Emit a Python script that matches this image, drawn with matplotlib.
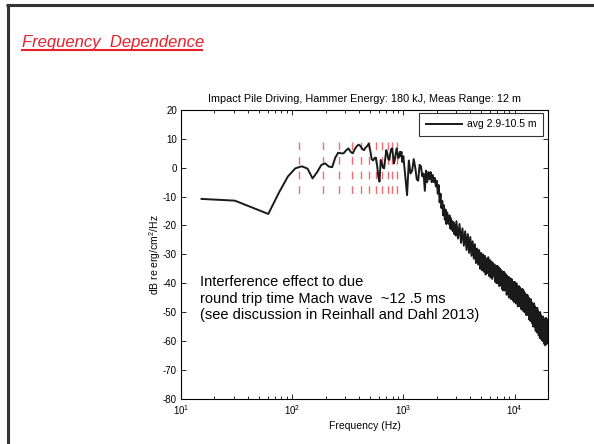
import numpy as np
import matplotlib
matplotlib.use("Agg")
import matplotlib.pyplot as plt
from matplotlib.lines import Line2D
from matplotlib.ticker import LogLocator, NullFormatter

plt.rcParams['font.family'] = ['Liberation Sans', 'DejaVu Sans']
plt.rcParams['mathtext.fontset'] = 'custom'
plt.rcParams['mathtext.rm'] = 'Liberation Sans'
plt.rcParams['mathtext.it'] = 'Liberation Sans:italic'
plt.rcParams['axes.unicode_minus'] = False

# ---------------- data ----------------
heading = "Frequency  Dependence"
title = "Impact Pile Driving, Hammer Energy: 180 kJ, Meas Range: 12 m"
legend_label = "avg 2.9-10.5 m"
xlabel = "Frequency (Hz)"
ylabel = "dB re erg/cm$^2$/Hz"
note = ("Interference effect to due\n"
        "round trip time Mach wave  ~12 .5 ms\n"
        "(see discussion in Reinhall and Dahl 2013)")

# low-frequency part (Hz, dB)
freq_low = [15.3, 30.5, 61.0, 76.3, 91.6, 106.8, 122.0, 137.3, 152.6, 167.8,
            183.1, 198.4, 213.6, 228.9, 244.1, 259.4, 274.7, 289.9, 305.2, 320.4,
            335.7, 351.0, 366.2, 381.5, 396.7, 412.0, 427.2, 442.5, 457.8, 473.0,
            488.3, 503.5, 518.8, 534.1, 549.3, 564.6, 579.8, 595.1, 610.4, 625.6,
            640.9, 656.1, 671.4, 686.6, 701.9, 717.2, 732.4, 747.7, 762.9, 778.2,
            793.5, 808.7, 824.0, 839.2, 854.5, 869.7, 885.0, 900.3, 915.5, 930.8,
            946.0, 961.3, 976.6]
level_low = [-10.8, -11.4, -16.0, -8.5, -3.0, -0.2, 0.5, -0.3, -3.7, -1.5,
             1.0, 1.5, 0.4, 0.2, 3.5, 5.2, 5.0, 5.0, 6.0, 6.7,
             5.5, 5.0, 6.5, 7.5, 8.0, 7.5, 6.5, 6.1, 7.0, 7.5,
             8.4, 6.0, 3.0, 2.5, 3.3, 3.5, 1.0, -3.0, -4.8, 2.7,
             1.5, 0.0, -0.2, 3.0, 6.1, 5.0, 3.0, 2.7, 5.0, 6.5,
             6.7, 4.0, 1.5, 3.0, 5.0, 6.7, 5.0, 3.3, 4.0, 5.5,
             4.0, 5.5, 2.0]

# 1.00 - 2.96 kHz, every 40 Hz
freq_mid_start, freq_mid_step, freq_mid_count = 1000, 40, 50
level_mid = [4, -3, -9.5, 2.5, -2, -1, 3, 0, -4, -4.5,
             1, 0.5, -3, -2, -8, -1, -5, -1.5, -4, -1.5,
             -5, -2.5, -5, -3.5, -6.5, -4.5, -9, -6, -12, -9,
             -14, -11.5, -16.5, -13, -18, -14.5, -19.5, -15.5, -18, -19.5,
             -16.5, -21, -17.5, -21.5, -18.5, -22, -19, -23, -20, -23.5]

# 3.0 - 20.0 kHz, every 100 Hz
freq_high_start, freq_high_step, freq_high_count = 3000, 100, 171
level_high = [-18.5, -24.5, -19.5, -26, -21, -27, -22, -28.5, -23, -29.5,
              -24, -30.5, -25.5, -31.5, -26.5, -33, -28, -33.5, -28.5, -35,
              -29.5, -35.5, -30, -36, -30.5, -37, -31.5, -36.5, -31, -37.5,
              -32, -38, -32.5, -38.5, -33, -37.5, -33.5, -39.5, -34, -40,
              -34, -40, -34.5, -41, -35, -40.5, -35.5, -42, -36, -42.5,
              -36, -42.5, -36.5, -42, -37, -44, -37.5, -43.5, -38, -45,
              -38, -44.5, -38.5, -45.5, -38.5, -45, -39.5, -46, -40, -46.5,
              -39.5, -46.5, -40.5, -47, -40, -46, -41, -48, -41.5, -47.5,
              -41, -48, -41.5, -47.5, -42, -49, -42.5, -48.5, -42, -49.5,
              -42.5, -49, -43, -50, -43.5, -49.5, -44, -51, -44, -50.5,
              -44, -51, -44.5, -50.5, -45, -52.5, -45.5, -52, -46, -53,
              -45.5, -53, -46.5, -52.5, -47, -54, -47.5, -55, -48, -54.5,
              -47, -55, -48, -54.5, -48.5, -56.5, -49, -56, -49.5, -57,
              -48.5, -57, -49.5, -56.5, -50, -58, -50.5, -57.5, -51, -59,
              -50, -58.5, -51, -58, -51.5, -59.5, -52, -59, -52.5, -60,
              -51.5, -59.5, -52, -60, -52.5, -61, -53, -60.5, -53.5, -61.5,
              -52.5, -60, -52, -59.5, -53, -61, -53, -60, -52.5, -59.5,
              -55]

# interference-line frequencies (Hz)
interference_freqs = [114, 190, 266, 342, 418, 494, 570, 646, 722, 798, 874]
interference_range = [9, -10]

xticks = [10, 100, 1000, 10000]
xticklabels = ["$10^{1}$", "$10^{2}$", "$10^{3}$", "$10^{4}$"]
yticks = [-80, -70, -60, -50, -40, -30, -20, -10, 0, 10, 20]

# ---------------- build series ----------------
freq_mid = [freq_mid_start + i * freq_mid_step for i in range(freq_mid_count)]
freq_high = [freq_high_start + i * freq_high_step for i in range(freq_high_count)]
freq = np.array(freq_low + freq_mid + freq_high, dtype=float)
level = np.array(level_low + level_mid + level_high, dtype=float)

# ---------------- figure ----------------
fig = plt.figure(figsize=(5.94, 4.44), dpi=100)
fig.patch.set_facecolor('white')

# slide frame (left & top)
fig.add_artist(Line2D([7.5 / 594, 7.5 / 594], [0, 1 - 4 / 444], color='#333333', lw=2.2,
                      transform=fig.transFigure, solid_capstyle='butt'))
fig.add_artist(Line2D([6 / 594, 1], [1 - 5 / 444, 1 - 5 / 444], color='#333333', lw=2.2,
                      transform=fig.transFigure, solid_capstyle='butt'))

# heading
fig.text(22 / 594, 1 - 47 / 444, heading, color='#e8202a', fontsize=12,
         style='italic', ha='left', va='baseline')
fig.add_artist(Line2D([22 / 594, 202 / 594], [1 - 50.5 / 444, 1 - 50.5 / 444],
                      color='#e8202a', lw=1.5, transform=fig.transFigure))

ax = fig.add_axes([181 / 594, 1 - 398.7 / 444, (548 - 181) / 594, (398.7 - 110) / 444])
ax.set_xscale('log')
ax.set_xlim(10, 2e4)
ax.set_ylim(-80, 20)

for f in interference_freqs:
    ax.plot([f, f], interference_range, color='#ec3b44', lw=1.0, alpha=0.75,
            dashes=(5.5, 5.0), zorder=1)

ax.plot(freq, level, color='#1a1a1a', lw=1.4, label=legend_label, zorder=2)

ax.set_xticks(xticks)
ax.set_xticklabels(xticklabels)
ax.xaxis.set_minor_locator(LogLocator(base=10, subs=np.arange(2, 10)))
ax.xaxis.set_minor_formatter(NullFormatter())
ax.set_yticks(yticks)
ax.tick_params(axis='both', which='both', direction='in', top=True, right=True,
               labelsize=7, pad=3)
ax.tick_params(which='major', length=3.5, width=0.6)
ax.tick_params(which='minor', length=2, width=0.6)
for s in ax.spines.values():
    s.set_linewidth(0.8)

ax.set_title(title, fontsize=7.8, pad=6)
ax.set_xlabel(xlabel, fontsize=7.5, labelpad=3)
ax.set_ylabel(ylabel, fontsize=7.5, labelpad=0)

leg = ax.legend(loc='upper right', bbox_to_anchor=(0.9864, 0.9896), fontsize=7.5,
                frameon=True, fancybox=False, edgecolor='black', borderpad=0.6,
                handlelength=3.5, handletextpad=0.5, borderaxespad=0)
leg.get_frame().set_linewidth(0.8)

ax.text(0.053, 0.427, note, transform=ax.transAxes, fontsize=10.5, ha='left',
        va='top', linespacing=1.22)

fig.savefig('out.png', dpi=100, facecolor='white')
